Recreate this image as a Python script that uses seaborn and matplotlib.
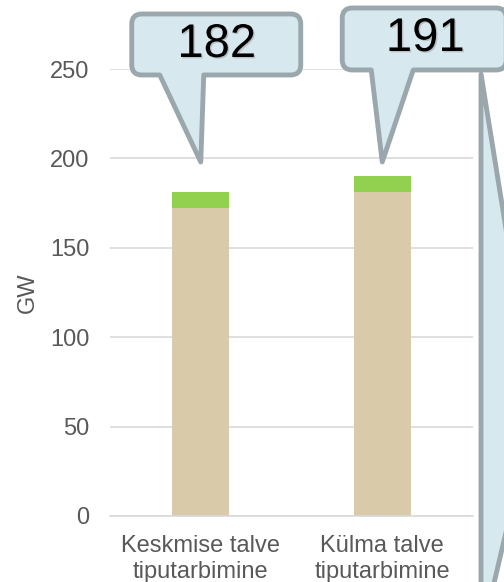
import pandas as pd
import seaborn as sns
import matplotlib.pyplot as plt
import matplotlib.patheffects as pe
from matplotlib.path import Path
from matplotlib.patches import PathPatch

# Chart data
categories = ["Keskmise talve\ntiputarbimine", "Külma talve\ntiputarbimine"]
base_load = [172, 181]
extra_load = [9, 9]
callout_labels = ["182", "191"]
callout_tip_y = [198, 198]
y_ticks = [0, 50, 100, 150, 200, 250]

W, H = 504, 582
BEIGE = "#D9CAA9"
GREEN = "#92D050"
FILL = "#D7E8EE"
EDGE = "#9AA8AD"
GREY = "#595959"

sns.set_style("white")
plt.rcParams['font.family'] = ['Liberation Sans', 'DejaVu Sans']

fig = plt.figure(figsize=(W / 100, H / 100), dpi=100)
ax = fig.add_axes([110 / W, 1 - 516 / H, 363 / W, (516 - 69) / H])

df = pd.DataFrame({
    "cat": categories,
    "base": base_load,
    "total": [b + e for b, e in zip(base_load, extra_load)],
})

# stacked bars: total first (green), base on top (beige)
sns.barplot(data=df, x="cat", y="total", color=GREEN, saturation=1,
            width=0.314, linewidth=0, ax=ax)
sns.barplot(data=df, x="cat", y="base", color=BEIGE, saturation=1,
            width=0.314, linewidth=0, ax=ax)

ax.set_xlim(-0.5, 1.5)
ax.set_ylim(0, 250)
ax.set_yticks(y_ticks)
ax.grid(axis="y", color="#D9D9D9", lw=1.2)
ax.set_axisbelow(True)
for s in ["top", "right", "left"]:
    ax.spines[s].set_visible(False)
ax.spines["bottom"].set_color("#D9D9D9")
ax.spines["bottom"].set_linewidth(1.2)
ax.tick_params(length=0, labelsize=17, colors=GREY)
ax.tick_params(axis="y", pad=15)
ax.tick_params(axis="x", pad=14)
ax.set_xlabel("")
ax.set_ylabel("GW", fontsize=17, color=GREY, labelpad=8)


def to_fig(x, y):
    # image pixels (y down) -> figure fraction
    return (x / W, 1 - y / H)


def callout_path(left, right, top, bottom, base_l, base_r, tip, r=10):
    pts = [
        ((left + r, top), Path.MOVETO),
        ((right - r, top), Path.LINETO),
        ((right, top), Path.CURVE3), ((right, top + r), Path.CURVE3),
        ((right, bottom - r), Path.LINETO),
        ((right, bottom), Path.CURVE3), ((right - r, bottom), Path.CURVE3),
        ((base_r, bottom), Path.LINETO),
        (tip, Path.LINETO),
        ((base_l, bottom), Path.LINETO),
        ((left + r, bottom), Path.LINETO),
        ((left, bottom), Path.CURVE3), ((left, bottom - r), Path.CURVE3),
        ((left, top + r), Path.LINETO),
        ((left, top), Path.CURVE3), ((left + r, top), Path.CURVE3),
        ((left + r, top), Path.CLOSEPOLY),
    ]
    verts = [to_fig(*p) for p, _ in pts]
    codes = [c for _, c in pts]
    return Path(verts, codes)


# box geometry relative to the pointer tip (pixels)
geom = [
    dict(left=-69, right=100, top=-148, bottom=-87, bl=-41, br=3, tx=16, ty=-117),
    dict(left=-40, right=124, top=-154, bottom=-92, bl=-11, br=31, tx=43, ty=-123),
]

for i, (lab, ty) in enumerate(zip(callout_labels, callout_tip_y)):
    dx, dy = ax.transData.transform((i, ty))
    tipx, tipy = dx, H - dy
    g = geom[i]
    path = callout_path(tipx + g["left"], tipx + g["right"], tipy + g["top"],
                        tipy + g["bottom"], tipx + g["bl"], tipx + g["br"],
                        (tipx, tipy))
    patch = PathPatch(path, facecolor=FILL, edgecolor=EDGE, lw=3.5,
                      joinstyle="round", transform=fig.transFigure, zorder=5)
    fig.add_artist(patch)
    fx, fy = to_fig(tipx + g["tx"], tipy + g["ty"])
    fig.text(fx, fy, lab, fontsize=34, color="black", ha="center",
             va="center", zorder=6,
             path_effects=[pe.withSimplePatchShadow(offset=(1, -1),
                                                    shadow_rgbFace="#888888",
                                                    alpha=0.4)])

# third callout, mostly outside the picture
third = [(481, 74), (520, 316), (520, 473), (490, 600), (481, 600), (481, 74)]
path3 = Path([to_fig(*p) for p in third],
             [Path.MOVETO] + [Path.LINETO] * 4 + [Path.CLOSEPOLY])
fig.add_artist(PathPatch(path3, facecolor=FILL, edgecolor=EDGE, lw=3.5,
                         joinstyle="round", transform=fig.transFigure, zorder=5))

fig.savefig("out.png", dpi=100)
